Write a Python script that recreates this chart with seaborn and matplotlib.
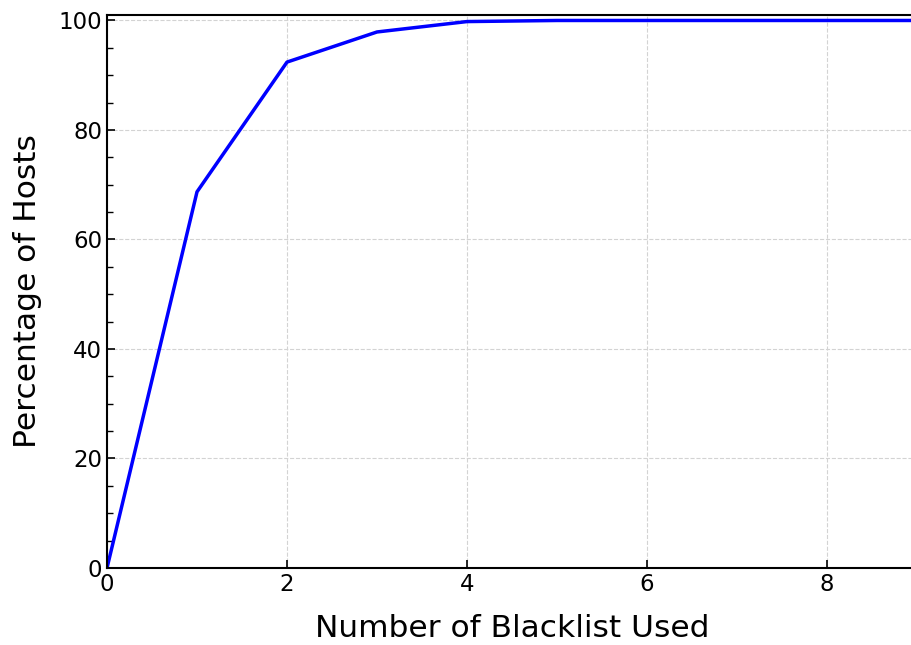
import matplotlib
matplotlib.use("Agg")
import matplotlib.pyplot as plt
import seaborn as sns
import pandas as pd
from matplotlib.ticker import MultipleLocator

# values
num_blacklists = [0, 1, 2, 3, 4, 5, 6, 7, 8, 9, 10]
pct_hosts = [0.0, 68.7, 92.4, 97.9, 99.8, 100.0, 100.0, 100.0, 100.0, 100.0, 100.0]

df = pd.DataFrame({"blacklists": num_blacklists, "hosts": pct_hosts})

sns.set_style("white")
plt.rcParams["font.family"] = ["DejaVu Sans"]
plt.rcParams["text.color"] = "black"
plt.rcParams["axes.labelcolor"] = "black"

fig = plt.figure(figsize=(9.11, 6.45), dpi=100)
# right edge of the axes sits just beyond the figure, as in the cropped reference
ax = fig.add_axes([107 / 911, 77 / 645, 810 / 911, 553 / 645])

sns.lineplot(data=df, x="blacklists", y="hosts", color="blue", linewidth=2.5, ax=ax)

ax.set_xlim(0, 9)
ax.set_ylim(0, 101)
ax.xaxis.set_major_locator(MultipleLocator(2))
ax.yaxis.set_major_locator(MultipleLocator(20))
ax.yaxis.set_minor_locator(MultipleLocator(5))
ax.tick_params(axis="both", which="major", direction="in", length=6, width=1.2,
               labelsize=16.5, colors="black", bottom=True, left=True)
ax.tick_params(axis="y", which="minor", direction="in", length=4, width=1.0,
               left=True, colors="black")
ax.grid(True, which="major", linestyle="--", color="#d3d3d3", linewidth=0.8)

for side in ["left", "bottom", "top"]:
    ax.spines[side].set_color("black")
    ax.spines[side].set_linewidth(1.5)
ax.spines["right"].set_visible(False)

ax.set_xlabel("Number of Blacklist Used", fontsize=22.5, labelpad=13)
ax.set_ylabel("Percentage of Hosts", fontsize=22.5, labelpad=12)

fig.savefig("out.png", dpi=100)
plt.close(fig)
